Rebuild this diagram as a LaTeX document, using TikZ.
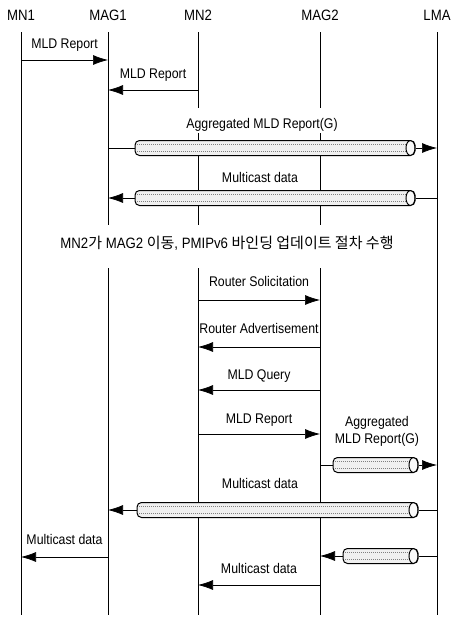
\documentclass[tikz,border=0pt]{standalone}
\usepackage{fontspec}
\setmainfont{Liberation Sans}[FakeStretch=0.88]
\newfontfamily\krfont{Noto Sans CJK KR}
\usetikzlibrary{arrows.meta}

\begin{document}
\begin{tikzpicture}[
    x=1pt, y=-1pt,
    every node/.style={font=\fontsize{14}{17}\selectfont},
    hdr/.style={inner sep=1pt, font=\fontsize{15}{17}\selectfont},
    lifeline/.style={line width=0.7pt},
    msg/.style={-{Latex[length=15pt,width=10pt]}, line width=0.7pt},
    tube/.style={rectangle, draw, line width=1pt, rounded corners=4.5pt,
        minimum height=15pt, inner sep=0pt, fill=gray!12,
        path picture={
            \draw[densely dotted, gray] ([yshift=3.5pt]path picture bounding box.west)
                -- ([yshift=3.5pt]path picture bounding box.east);
            \draw[densely dotted, gray] ([yshift=-3.5pt]path picture bounding box.west)
                -- ([yshift=-3.5pt]path picture bounding box.east);
            \draw[line width=1pt, fill=gray!5] ([xshift=-4.5pt]path picture bounding box.east)
                ellipse (4.5pt and 7.5pt);
        }},
    lbl/.style={midway, yshift=#1},
    lbl/.default=15pt
]
    \useasboundingbox (0,0) rectangle (453,619);

    % Nodes
    \node[hdr] (mn1) at (21,15) {MN1};
    \node[hdr] (mag1) at (108,15) {MAG1};
    \node[hdr] (mn2) at (198,15) {MN2};
    \node[hdr] (mag2) at (320,15) {MAG2};
    \node[hdr] (lma) at (437,15) {LMA};

    \foreach \n/\y in {top/32, gapa/108, gapb/133, gapc/225, gapd/268, bot/615,
                       m1/60, m2/90, m6/300, m7/347, m8/390, m9/434, m13/557, m15/585}
        \coordinate (\n) at (0,\y);

    % Lifelines
    \draw[lifeline] (mn1 |- top) -- (mn1 |- bot);
    \draw[lifeline] (mag1 |- top) -- (mag1 |- gapc);
    \draw[lifeline] (mag1 |- gapd) -- (mag1 |- bot);
    \foreach \l in {mn2, mag2} {
        \draw[lifeline] (\l |- top) -- (\l |- gapa);
        \draw[lifeline] (\l |- gapb) -- (\l |- gapc);
        \draw[lifeline] (\l |- gapd) -- (\l |- bot);
    }
    \draw[lifeline] (lma |- top) -- (lma |- bot);

    % Tunnels
    \node[tube, minimum width=280pt] (t1) at (275,148) {};
    \node[tube, minimum width=280pt] (t2) at (275,198) {};
    \node[tube, minimum width=85pt] (t3) at (375.5,465) {};
    \node[tube, minimum width=281pt] (t4) at (277.5,510) {};
    \node[tube, minimum width=75pt] (t5) at (380.5,556) {};

    \node (agg1) at (262,125) {Aggregated MLD Report(G)};
    \node (mc1) at (260,177) {Multicast data};
    \node[font=\fontsize{15}{17}\selectfont] (move) at (227,243)
        {MN2{\krfont 가} MAG2 {\krfont 이동}, PMIPv6 {\krfont 바인딩 업데이트 절차 수행}};
    \node[align=center] (agg2) at (377,431) {Aggregated\\MLD Report(G)};
    \node (mc2) at (260,483) {Multicast data};

    % Arrows
    \draw[msg] (mn1 |- m1) -- node[lbl] {MLD Report} (mag1 |- m1);
    \draw[msg] (mn2 |- m2) -- node[lbl] {MLD Report} (mag1 |- m2);
    \draw[lifeline] (mag1 |- t1) -- (t1.west);
    \draw[msg] (t1.east) -- (lma |- t1);
    \draw[lifeline] (lma |- t2) -- (t2.east);
    \draw[msg] (t2.west) -- (mag1 |- t2);
    \draw[msg] (mn2 |- m6) -- node[lbl=19pt] {Router Solicitation} (mag2 |- m6);
    \draw[msg] (mag2 |- m7) -- node[lbl=19pt] {Router Advertisement} (mn2 |- m7);
    \draw[msg] (mag2 |- m8) -- node[lbl=14pt] {MLD Query} (mn2 |- m8);
    \draw[msg] (mn2 |- m9) -- node[lbl=14pt] {MLD Report} (mag2 |- m9);
    \draw[lifeline] (mag2 |- t3) -- (t3.west);
    \draw[msg] (t3.east) -- (lma |- t3);
    \draw[lifeline] (lma |- t4) -- (t4.east);
    \draw[msg] (t4.west) -- (mag1 |- t4);
    \draw[msg] (mag1 |- m13) -- node[lbl=18pt] {Multicast data} (mn1 |- m13);
    \draw[lifeline] (lma |- t5) -- (t5.east);
    \draw[msg] (t5.west) -- (mag2 |- t5);
    \draw[msg] (mag2 |- m15) -- node[lbl=17pt] {Multicast data} (mn2 |- m15);
\end{tikzpicture}
\end{document}
